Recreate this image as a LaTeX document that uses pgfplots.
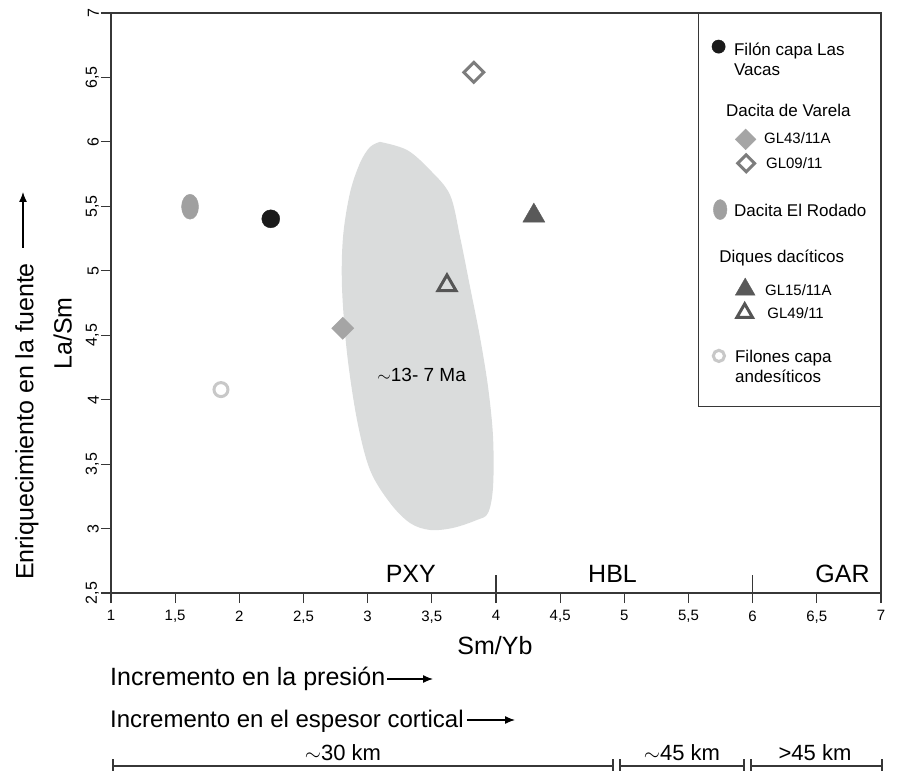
\documentclass[border=0pt]{standalone}
\usepackage{pgfplots}
\pgfplotsset{compat=1.18}
\usepackage{fontspec}
\setmainfont{Liberation Sans}
\usetikzlibrary{arrows.meta}
\definecolor{regiongray}{RGB}{218,220,220}
\definecolor{filon}{RGB}{26,26,26}
\definecolor{gldia}{RGB}{165,165,165}
\definecolor{glopen}{RGB}{125,125,125}
\definecolor{rodado}{RGB}{160,160,160}
\definecolor{gltri}{RGB}{89,89,89}
\definecolor{glotri}{RGB}{85,85,85}
\definecolor{filones}{RGB}{200,200,200}
\definecolor{axisgray}{RGB}{55,55,55}
\newcommand{\fs}[1]{\fontsize{#1}{#1}\selectfont}
\newcommand{\stru}[2]{\rule[-#2pt]{0pt}{\dimexpr #1pt + #2pt\relax}}
\pgfplotsset{
  limg/.style n args={3}{legend image code/.code={%
      \draw[overlay,##1,#3] plot coordinates {(#1,#2)};%
      \path (0pt,0pt) (20pt,0pt);}},
  himg/.style={legend image code/.code={\path (0pt,0pt) (20pt,0pt);}},
}
\begin{document}
\begin{tikzpicture}
\path[use as bounding box] (-111pt,-178pt) rectangle (786pt,593pt);
\begin{axis}[
  scale only axis, width=770pt, height=580pt,
  xmin=1, xmax=7, ymin=2.5, ymax=7,
  xtick={1,1.5,2,2.5,3,3.5,4,4.5,5,5.5,6,6.5,7},
  ytick={2.5,3,3.5,4,4.5,5,5.5,6,6.5,7},
  xtick pos=bottom, ytick pos=left,
  tick align=outside, major tick length=10pt,
  tick style={axisgray, line width=1.2pt},
  axis line style={axisgray, line width=1.2pt},
  /pgf/number format/use comma,
  /pgf/number format/assume math mode=true,
  xticklabel style={font=\fs{15}, yshift=-4pt},
  yticklabel style={font=\fs{16}, rotate=90, anchor=south, inner sep=2pt},
  xlabel={Sm/Yb},
  xlabel style={font=\fs{25}, at={(axis description cs:0.4987,0)}, anchor=base, yshift=-61.3pt},
  ylabel={La/Sm},
  ylabel style={font=\fs{25}, at={(axis description cs:-0.051,0.4474)}, anchor=base},
  legend style={at={(1,1)}, anchor=north east, draw=axisgray, line width=1.2pt,
    fill=white, inner xsep=0pt, inner ysep=0pt, row sep=0pt, column sep=0pt,
    font=\fs{17},
    nodes={inner sep=0pt, text depth=, text height=},
    cells={anchor=base west}},
]
% field of ~13-7 Ma
\addplot[fill=regiongray, draw=none, smooth, tension=0.55, forget plot] coordinates {
(3.096,6.000) (3.307,5.937) (3.486,5.782) (3.642,5.588) (3.720,5.262) (3.798,4.874)
(3.875,4.486) (3.938,4.099) (3.977,3.711) (3.977,3.323) (3.938,3.121) (3.852,3.067)
(3.665,3.005) (3.486,2.989) (3.330,3.043) (3.174,3.199) (3.018,3.455) (2.917,3.843)
(2.839,4.362) (2.800,4.874) (2.808,5.262) (2.862,5.604) (2.940,5.836) (3.018,5.960)
(3.096,6.000)};
\node[font=\fs{19}] at (axis cs:3.421,4.19) {$\sim$13- 7 Ma};
% pressure-field limits
\draw[axisgray, line width=1.2pt] (axis cs:4,2.5) -- (axis cs:4,2.64);
\draw[axisgray, line width=1.2pt] (axis cs:6,2.5) -- (axis cs:6,2.64);
\node[font=\fs{25}, anchor=base] at (axis cs:3.336,2.585) {PXY};
\node[font=\fs{25}, anchor=base] at (axis cs:4.908,2.585) {HBL};
\node[font=\fs{25}, anchor=base] at (axis cs:6.70,2.585) {GAR};

% data
\addplot[only marks, mark=*, color=filon, line width=0.4pt, mark size=9pt,
  limg={18.7pt}{9pt}{every mark/.append style={scale=0.74}}] coordinates {(2.245,5.403)};
\addlegendentry{\hspace*{12.7pt}\vtop{\baselineskip=20pt\hbox{Filón capa Las}\hbox{Vacas}}\stru{42}{47}}

\addlegendimage{himg}
\addlegendentry{\hspace*{4.7pt}Dacita de Varela\stru{14}{12.7}}

\addplot[only marks, mark=square*, color=gldia, line width=0.4pt, mark size=7.8pt,
  mark options={rotate=45},
  limg={45.7pt}{4pt}{every mark/.append style={scale=0.94}}] coordinates {(2.806,4.554)};
\addlegendentry{\hspace*{42.7pt}\fs{15}GL43/11A\stru{14}{11}}

\addplot[only marks, mark=square, color=glopen, line width=3pt, mark size=7pt,
  mark options={rotate=45},
  limg={46.3pt}{5pt}{every mark/.append style={scale=0.85}}] coordinates {(3.827,6.540)};
\addlegendentry{\hspace*{44.7pt}\fs{15}GL09/11\stru{14}{34.3}}

\addplot[only marks, mark=*, color=rodado, line width=0.4pt, mark size=12.5pt,
  mark options={xscale=0.68},
  limg={20.3pt}{7pt}{every mark/.append style={scale=0.8}}] coordinates {(1.616,5.497)};
\addlegendentry{\hspace*{12.7pt}\makebox[146.3pt][l]{Dacita El Rodado}\stru{14}{32}}

\addlegendimage{himg}
\addlegendentry{\hspace*{-2pt}Diques dacíticos\stru{14}{19}}

\addplot[only marks, mark=triangle*, color=gltri, line width=0.4pt, mark size=12.7pt,
  limg={45.3pt}{6.1pt}{every mark/.append style={scale=0.9}}] coordinates {(4.295,5.427)};
\addlegendentry{\hspace*{43.7pt}\fs{15}GL15/11A\stru{14}{9}}

\addplot[only marks, mark=triangle, color=glotri, line width=3pt, mark size=10.5pt,
  limg={44.8pt}{5.8pt}{every mark/.append style={scale=0.85}}] coordinates {(3.618,4.886)};
\addlegendentry{\hspace*{46pt}\fs{15}GL49/11\stru{14}{29.7}}

\addplot[only marks, mark=o, color=filones, line width=3pt, mark size=7pt,
  limg={19pt}{6.4pt}{every mark/.append style={scale=0.8}}] coordinates {(1.857,4.078)};
\addlegendentry{\hspace*{13.7pt}\vtop{\baselineskip=20pt\hbox{Filones capa}\hbox{andesíticos}}\stru{14}{44.3}}
\end{axis}

% y-axis side annotation
\node[font=\fs{25}, rotate=90, anchor=base] at (-77.7pt,171.5pt) {Enriquecimiento en la fuente};
\draw[-{Latex[length=10pt,width=8pt]}, line width=1.3pt] (-88pt,345pt) -- (-88pt,401pt);

% bottom annotations
\node[font=\fs{25}, anchor=base west, inner sep=0pt] at (-1pt,-92pt) {Incremento en la presión};
\draw[-{Latex[length=10pt,width=8pt]}, line width=1.3pt] (276pt,-86pt) -- (322pt,-86pt);
\node[font=\fs{24}, anchor=base west, inner sep=0pt] at (-1pt,-134pt) {Incremento en el espesor cortical};
\draw[-{Latex[length=10pt,width=8pt]}, line width=1.3pt] (356pt,-127pt) -- (404pt,-127pt);

% crustal thickness scale
\begin{scope}[line width=1.5pt, axisgray]
\draw (2pt,-173pt) -- (502pt,-173pt);
\draw (509pt,-173pt) -- (633pt,-173pt);
\draw (640pt,-173pt) -- (771pt,-173pt);
\foreach \xx in {2,502,509,633,640,771} {\draw (\xx pt,-166pt) -- (\xx pt,-180pt);}
\end{scope}
\node[font=\fs{22}, anchor=base] at (232pt,-167pt) {$\sim$30 km};
\node[font=\fs{22}, anchor=base] at (571pt,-167pt) {$\sim$45 km};
\node[font=\fs{22}, anchor=base] at (704pt,-167pt) {>45 km};
\end{tikzpicture}
\end{document}
